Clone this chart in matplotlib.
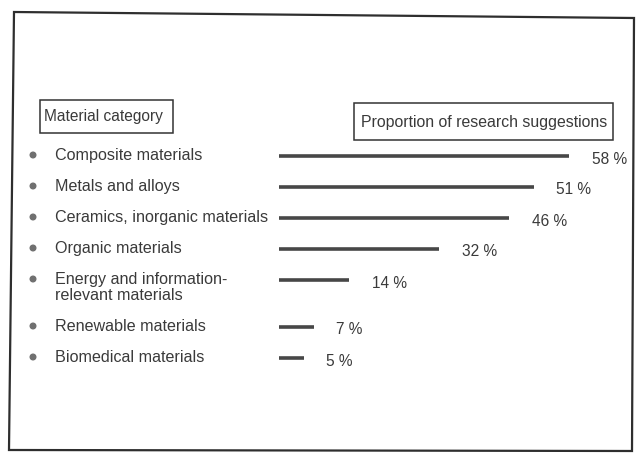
import matplotlib
matplotlib.use("Agg")
import matplotlib.pyplot as plt
from matplotlib.patches import Polygon, Rectangle, Circle

# data
categories = [
    "Composite materials",
    "Metals and alloys",
    "Ceramics, inorganic materials",
    "Organic materials",
    "Energy and information-\nrelevant materials",
    "Renewable materials",
    "Biomedical materials",
]
shares = [58, 51, 46, 32, 14, 7, 5]
left_header = "Material category"
right_header = "Proportion of research suggestions"

plt.rcParams["font.family"] = ["Liberation Sans", "DejaVu Sans"]
ink = "#3a3a3a"
bar_ink = "#474747"
fs = 11.6

fig = plt.figure(figsize=(6.38, 4.54), dpi=100)
fig.patch.set_facecolor("white")

# background axes in pixel units
bg = fig.add_axes([0, 0, 1, 1])
bg.set_xlim(0, 638)
bg.set_ylim(454, 0)
bg.axis("off")

# scanned frame, slightly skewed
bg.add_patch(Polygon([(14, 12), (634, 18), (632, 451), (9, 450)], closed=True,
                     fill=False, edgecolor="#2e2e2e", lw=1.6))

# header boxes
bg.add_patch(Rectangle((40, 100), 133, 33, fill=False, edgecolor="#333333", lw=1.1))
bg.text(44, 117, left_header, fontsize=11.2, color=ink, va="center", ha="left")
bg.add_patch(Rectangle((354, 103), 259, 37, fill=False, edgecolor="#333333", lw=1.1))
bg.text(361, 122, right_header, fontsize=11.4, color=ink, va="center", ha="left")

# bar axes: x in percent, y in pixel rows
ax = fig.add_axes([279 / 638, 0, 300 / 638, 1])
ax.set_xlim(0, 60)
ax.set_ylim(454, 0)
ax.axis("off")

y = 156
for cat, val in zip(categories, shares):
    nlines = cat.count("\n") + 1
    bg.add_patch(Circle((33, y - 1), 2.8, color="#707070"))
    bg.text(55, y - 8, cat, fontsize=fs, color=ink, va="top", ha="left",
            linespacing=1.1)
    ax.hlines(y, 0, val, color=bar_ink, lw=2.6)
    ax.text(val + 4.5, y + 3, f"{val} %", fontsize=11.2, color=ink,
            va="center", ha="left")
    y += 31 + 16 * (nlines - 1)

fig.savefig("out.png", dpi=100, facecolor="white")
